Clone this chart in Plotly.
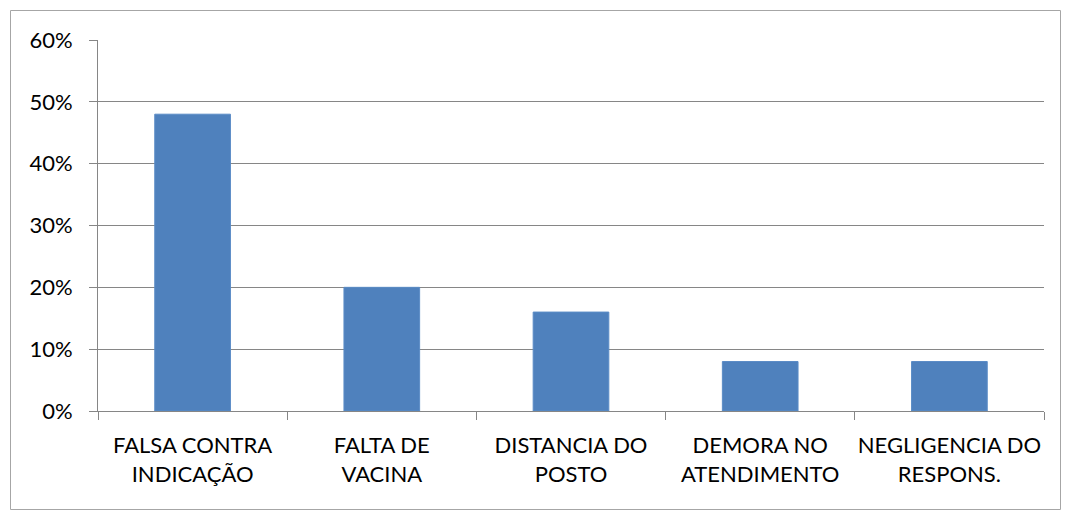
import plotly.graph_objects as go

categories = ["FALSA CONTRA<br>INDICAÇÃO", "FALTA DE<br>VACINA", "DISTANCIA DO<br>POSTO",
              "DEMORA NO<br>ATENDIMENTO", "NEGLIGENCIA DO<br>RESPONS."]
values = [0.48, 0.20, 0.16, 0.08, 0.08]
y_ticks = [0, 0.1, 0.2, 0.3, 0.4, 0.5, 0.6]
y_tick_labels = ["0%", "10%", "20%", "30%", "40%", "50%", "60%"]

W, H = 1069, 511
L, R, T, B = 98, 25, 40, 100
pw, ph = W - L - R, H - T - B

fig = go.Figure(go.Bar(
    x=categories, y=values,
    marker=dict(color="#4F81BD", line=dict(color="#5B8CC6", width=1)),
    width=0.4,
))

font = dict(family="Lato, Carlito, Calibri, sans-serif", size=22, color="#000000")

fig.update_layout(
    width=W, height=H,
    margin=dict(l=L, r=R, t=T, b=B),
    paper_bgcolor="white", plot_bgcolor="white",
    showlegend=False,
    font=font,
    bargap=0.6,
    xaxis=dict(
        showgrid=False, showline=True, linecolor="#868686", linewidth=1,
        ticks="outside", ticklen=8, tickcolor="#868686", tickson="boundaries",
        tickfont=font, ticklabelstandoff=15, tickangle=0, automargin=False,
    ),
    yaxis=dict(
        range=[0, 0.6], tickvals=y_ticks, ticktext=y_tick_labels,
        showgrid=True, gridcolor="#868686", gridwidth=1,
        showline=True, linecolor="#868686", linewidth=1,
        ticks="outside", ticklen=8, tickcolor="#868686",
        tickfont=font, ticklabelstandoff=12, zeroline=False, automargin=False,
    ),
    shapes=[dict(
        type="rect", xref="paper", yref="paper",
        x0=(10.5 - L) / pw, x1=(1060.5 - L) / pw,
        y0=(H - B - 509.5) / ph, y1=(H - B - 10.5) / ph,
        line=dict(color="#A6A6A6", width=1), fillcolor="rgba(0,0,0,0)", layer="below",
    )],
)

fig.write_html("out.html")
